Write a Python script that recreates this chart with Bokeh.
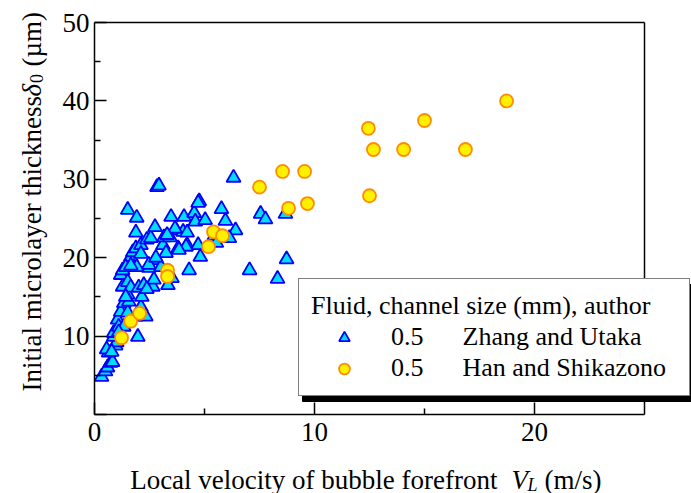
import math
from bokeh.plotting import figure
from bokeh.models import Range1d, FixedTicker, Label, Legend, LegendItem, LinearAxis
from bokeh.embed import file_html
from bokeh.resources import INLINE

# ---- data ----
# Zhang and Utaka (triangles): local velocity V_L (m/s), microlayer thickness (um)
zu_v = [0.32, 0.50, 0.59, 0.73, 0.82, 0.64, 0.55, 0.96, 1.01, 0.87,
        0.87, 1.05, 1.10, 1.19, 1.19, 1.28, 1.28, 1.33, 1.33, 1.51,
        1.51, 1.51, 1.56, 1.65, 1.65, 1.74, 1.78, 1.88, 1.88, 1.97,
        2.01, 2.11, 2.11, 2.15, 2.24, 2.33, 2.38, 2.47, 2.56, 2.65,
        2.70, 2.75, 3.02, 3.11, 3.16, 3.25, 3.34, 3.43, 3.71, 3.80,
        4.03, 4.21, 4.30, 4.71, 4.81, 2.75, 1.51, 1.92, 1.88, 2.84,
        2.93, 3.48, 4.07, 4.53, 4.58, 4.76, 4.71, 5.03, 5.77, 5.95,
        6.41, 6.13, 5.45, 5.54, 6.32, 7.55, 7.77, 8.68, 8.73, 7.05,
        8.32, 3.52, 3.66, 3.30, 4.16, 1.42, 1.92, 2.47, 2.79, 1.10,
        0.78, 1.42, 1.65, 2.11, 2.38, 3.84, 4.21]
zu_d = [4.8, 5.5, 6.0, 6.6, 6.7, 7.9, 8.3, 8.8, 9.2, 9.9,
        10.4, 12.1, 11.2, 13.1, 17.8, 18.4, 16.3, 14.2, 11.2, 16.9,
        15.3, 13.0, 14.4, 20.1, 16.2, 20.7, 18.8, 21.2, 12.5, 9.9,
        16.2, 21.6, 13.7, 15.0, 16.5, 12.5, 22.3, 18.7, 22.5, 16.3,
        17.2, 19.7, 18.8, 21.6, 22.6, 20.6, 16.5, 22.6, 23.5, 21.2,
        23.3, 21.6, 18.4, 21.6, 20.1, 23.9, 26.1, 25.1, 23.2, 29.0,
        29.2, 25.2, 25.2, 25.7, 24.6, 27.2, 27.0, 24.8, 26.2, 24.7,
        23.5, 22.5, 22.8, 21.9, 30.2, 25.6, 24.9, 25.6, 19.8, 18.4,
        17.3, 17.4, 23.7, 22.9, 21.4, 18.8, 18.8, 19.1, 20.0, 10.5,
        8.0, 15.0, 19.0, 20.5, 16.0, 21.0, 23.2]

# Han and Shikazono (circles)
hs_v = [1.23, 1.64, 2.05, 3.32, 3.32, 5.18, 5.41, 5.82, 7.50, 8.55,
        8.82, 9.55, 9.68, 12.45, 12.50, 12.68, 14.05, 15.0, 16.86, 18.73]
hs_d = [9.8, 11.9, 12.9, 18.4, 17.6, 21.4, 23.3, 22.8, 29.0, 31.0,
        26.3, 31.0, 26.9, 36.5, 27.9, 33.8, 33.8, 37.5, 33.8, 40.0]

x_lim = (0, 25)
y_lim = (0, 50)
x_ticks = [0, 10, 20]
x_minor = [5, 15]
y_ticks = [0, 10, 20, 30, 40, 50]
y_minor = [5, 15, 25, 35, 45]

legend_title = "Fluid, channel size (mm), author"
series_sizes = ["0.5", "0.5"]
series_authors = ["Zhang and Utaka", "Han and Shikazono"]

FONT = "Liberation Serif"

# ---- canvas geometry: the axes box sits inside a full-canvas frame ----
W, H = 691, 493
BOX_L, BOX_R, BOX_T, BOX_B = 94, 644, 22, 414
sx = (BOX_R - BOX_L) / (x_lim[1] - x_lim[0])
sy = (BOX_B - BOX_T) / (y_lim[1] - y_lim[0])
xr = Range1d(x_lim[0] - BOX_L / sx, x_lim[1] + (W - BOX_R) / sx)
yr = Range1d(y_lim[0] - (H - BOX_B) / sy, y_lim[1] + BOX_T / sy)


def px_to_x(px):
    return x_lim[0] + (px - BOX_L) / sx


def px_to_y(py):
    return y_lim[0] + (BOX_B - py) / sy


p = figure(width=W, height=H, x_range=xr, y_range=yr,
           output_backend="svg", toolbar_location=None,
           min_border=0)
p.xgrid.visible = False
p.ygrid.visible = False
p.outline_line_color = None
p.background_fill_color = "white"
p.border_fill_color = "white"


def style_axis(ax, labels=True):
    ax.axis_line_width = 1.5
    ax.axis_line_color = "black"
    ax.major_tick_line_width = 1.5
    ax.minor_tick_line_width = 1.5
    ax.major_tick_line_color = "black"
    ax.minor_tick_line_color = "black"
    ax.major_tick_in = 12 if labels else 0
    ax.major_tick_out = 0
    ax.minor_tick_in = 6 if labels else 0
    ax.minor_tick_out = 0
    ax.major_label_text_font = FONT
    ax.major_label_text_font_size = "27px"
    ax.major_label_text_color = "black"
    if not labels:
        ax.major_label_text_alpha = 0


xa = p.xaxis[0]
ya = p.yaxis[0]
xa.fixed_location = y_lim[0]
ya.fixed_location = x_lim[0]
xa.bounds = x_lim
ya.bounds = y_lim
style_axis(xa)
style_axis(ya)
xa.ticker = FixedTicker(ticks=x_ticks, minor_ticks=x_minor)
ya.ticker = FixedTicker(ticks=y_ticks, minor_ticks=y_minor)
ya.major_label_overrides = {0: ""}
xa.major_label_standoff = 8
ya.major_label_standoff = 5

top = LinearAxis(fixed_location=y_lim[1], bounds=x_lim,
                 ticker=FixedTicker(ticks=[], minor_ticks=[]))
right = LinearAxis(fixed_location=x_lim[1], bounds=y_lim,
                   ticker=FixedTicker(ticks=[], minor_ticks=[]))
style_axis(top, labels=False)
style_axis(right, labels=False)
p.add_layout(top, "above")
p.add_layout(right, "right")

tri = p.scatter(zu_v, zu_d, marker="triangle", size=14, fill_color="#00DDFF",
                line_color="#0000FF", line_width=1.8)
cir = p.scatter(hs_v, hs_d, marker="circle", size=13, fill_color="#FFF000",
                line_color="#FF8C00", line_width=1.8)

NB = "\u00a0" * 6
labels = [f"{s}{NB}{a}" for s, a in zip(series_sizes, series_authors)]

# legend box (screen pixels) and its drop shadow, drawn below the legend
LG_L, LG_B, LG_R, LG_T = 298, 396, 688, 280
SH = 4
p.quad(left=[px_to_x(LG_L + SH)], right=[px_to_x(LG_R + SH)],
       top=[px_to_y(LG_T + SH)], bottom=[px_to_y(LG_B + SH + 1)],
       fill_color="#000000", fill_alpha=1.0, line_color="#000000", line_width=1,
       level="overlay")

legend = Legend(items=[LegendItem(label=labels[0], renderers=[tri]),
                       LegendItem(label=labels[1], renderers=[cir])],
                location=(LG_L, H - LG_B), title=legend_title, orientation="vertical")
legend.level = "overlay"
legend.margin = 0
legend.padding = 12
legend.spacing = 1
legend.glyph_width = 66
legend.glyph_height = 27
legend.label_height = 27
legend.label_width = 286
legend.label_standoff = 14
legend.title_standoff = 1
legend.label_text_font = FONT
legend.label_text_font_size = "26px"
legend.label_text_color = "black"
legend.title_text_font = FONT
legend.title_text_font_size = "26px"
legend.title_text_font_style = "normal"
legend.title_text_color = "black"
legend.background_fill_color = "white"
legend.background_fill_alpha = 1.0
legend.border_line_color = "black"
legend.border_line_width = 1.5
p.add_layout(legend, "center")


# ---- axis titles (screen units, origin at bottom-left of canvas) ----
def lab(x, y, text, size="27px", style="normal", angle=0.0, align="left"):
    p.add_layout(Label(x=x, y=y, x_units="screen", y_units="screen", text=text,
                       text_font=FONT, text_font_size=size, text_font_style=style,
                       text_align=align, text_baseline="alphabetic", angle=angle,
                       text_color="black"))


# x axis title
XB = H - 479
lab(497, XB, "Local velocity of bubble forefront", align="right")
lab(511, XB, "V", style="italic")
lab(527, XB - 5, "L", size="18px", style="italic")
lab(544, XB, "(m/s)")

# y axis title (rotated)
A = math.pi / 2
lab(31, H - 391, "Initial microlayer thickness", angle=A)
lab(31, H - 96, "\u03b4", style="italic", angle=A)
lab(36, H - 82.5, "0", size="18px", angle=A)
lab(31, H - 66, "(\u00b5m)", angle=A)

open("out.html", "w").write(file_html(p, INLINE))
